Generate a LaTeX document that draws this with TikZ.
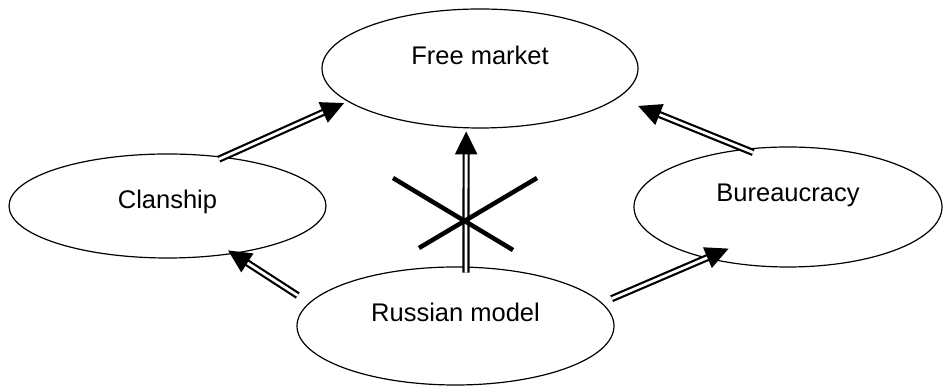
\documentclass[tikz,border=0pt]{standalone}
\usepackage{fontspec}
\setmainfont{Liberation Sans}
\usetikzlibrary{shapes.geometric,arrows.meta}
\begin{document}
\begin{tikzpicture}[x=1pt,y=1pt,
  oval/.style={ellipse, draw, line width=1.2pt, inner sep=0pt,
    font=\fontsize{25.5}{30}\selectfont, text height=18pt},
  flow/.style={double, line width=2.2pt, double distance=2.8pt,
    -{Triangle[length=23pt,width=22pt]}},
  veto/.style={line width=4.5pt}]
\useasboundingbox (0,0) rectangle (943,387);

% the four states
\node[oval, minimum width=316pt, minimum height=119pt, text depth=26.7pt] (fm)   at (480,318.5) {Free market};
\node[oval, minimum width=317pt, minimum height=104pt, text depth=13.7pt] (clan) at (167.5,181) {Clanship};
\node[oval, minimum width=308pt, minimum height=120pt, text depth=29.7pt] (bur)  at (788,180)   {Bureaucracy};
\node[oval, minimum width=317pt, minimum height=118pt, text depth=27.7pt] (rus)  at (455.5,61)  {Russian model};

% transitions
\draw[flow, shorten <=-5.6pt, shorten >=3.7pt]    (clan.41.9) -- (fm.194.7);
\draw[flow, shorten <=-9.7pt, shorten >=21.4pt]   (bur.127.4) -- (fm.-12.8);
\draw[flow, shorten <=-6pt,   shorten >=3pt]      (rus.80)    -- (fm.-103.3);
\draw[flow, shorten <=13.35pt, shorten >=-6.35pt] (rus.171.2) -- (clan.-36.2);
\draw[flow, shorten <=10.45pt, shorten >=-24.7pt] (rus.9.38)  -- (bur.-148.5);

% the blocked direct path
\coordinate (x1a) at (393,209); \coordinate (x1b) at (513,137);
\coordinate (x2a) at (419,139); \coordinate (x2b) at (537,209);
\draw[veto] (x1a) -- (x1b);
\draw[veto] (x2a) -- (x2b);
\end{tikzpicture}
\end{document}
